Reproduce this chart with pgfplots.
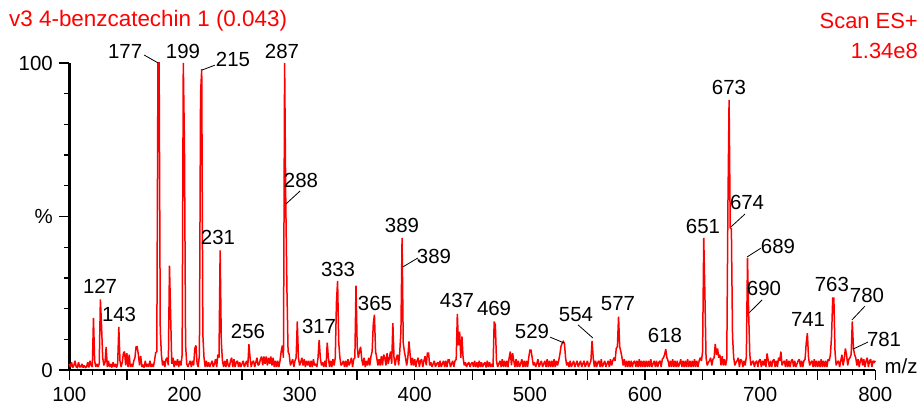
\documentclass[border=0pt]{standalone}
\usepackage{pgfplots}
\pgfplotsset{compat=1.18}
\usepackage{fontspec}
\setmainfont{Liberation Sans}
\begin{document}
\begin{tikzpicture}[x=1bp,y=1bp]
\path[use as bounding box] (0,0) rectangle (924,408);
\begin{axis}[
  at={(69.3bp,38bp)}, anchor=south west, scale only axis,
  width=806bp, height=307bp,
  xmin=100, xmax=800, ymin=0, ymax=100,
  axis x line*=bottom, axis y line*=left,
  axis line style={line width=2.8bp, -},
  xtick={100,200,...,800},
  extra x ticks={150,250,...,750}, extra x tick labels={},
  extra x tick style={major tick length=10bp},
  minor x tick num=9,
  ytick={0,50,100}, yticklabels={0,\%,100}, minor y tick num=4,
  tick align=outside,
  major tick length=10bp, minor tick length=5bp,
  tick style={black, line width=1.4bp},
  ticklabel style={font=\fontsize{20.5}{22}\selectfont},
  xticklabel style={yshift=-4bp},
  yticklabel style={xshift=-3bp},
  /pgf/number format/assume math mode=true,
  clip=false,
]
\addplot[red, line width=1.5bp, line join=miter, miter limit=2] table[row sep=\\, header=false, x expr=\coordindex+100, y index=0] {
2\\1\\2.5\\0.8\\1.5\\3\\1\\0.8\\2.5\\1\\
1\\2\\0.8\\1.5\\0.8\\1\\2.5\\0.8\\3\\1.5\\
1\\17\\3\\1\\2\\1\\2\\23\\14.5\\4\\
1.5\\2.5\\7.5\\1\\3\\1\\2\\0.8\\2.5\\1\\
2\\0.8\\2\\14\\3\\1\\2.5\\5.5\\6\\1.5\\
5.5\\1\\5\\1\\2\\1\\3\\4\\7.5\\7.5\\
5\\1.5\\4.6\\1\\1.5\\0.8\\3\\1\\2\\1\\
3\\1\\2\\1\\3\\5.6\\6\\100\\100\\13\\
5\\1.5\\3\\1\\3.5\\4\\1.5\\34\\18\\2\\
4\\1\\3\\1.5\\3.5\\1\\3\\1.5\\5\\100\\
73.5\\8\\2\\1\\2\\3\\1\\3\\1.5\\7\\
8\\2\\1\\5\\90\\98\\11.4\\4\\1\\3\\
1\\2.5\\1\\2\\3\\1\\2\\3.5\\1\\5\\
4\\39\\9.3\\3\\1\\3\\1\\3.5\\1.5\\1\\
3\\4\\1\\3.5\\1\\2.5\\3\\1\\2.5\\1\\
2\\3\\1\\2\\3\\1\\8.4\\4\\1\\2.5\\
3\\1\\2.5\\4\\1.5\\2\\3.5\\4.4\\1.5\\4.4\\
2\\4.4\\1.5\\4\\2\\4.4\\1.5\\4\\1\\3\\
1\\3\\1\\3\\6\\8\\4\\100\\55\\26.4\\
6\\5\\1.5\\2.5\\3.5\\1\\3\\4\\15.8\\4\\
1.5\\2.5\\4\\1.5\\3.5\\1\\3\\1.5\\3\\1\\
3\\1\\3.5\\1.5\\2\\1\\4\\9.8\\4\\1.5\\
2.5\\1\\3\\1\\8.9\\4\\1\\3\\1\\3.5\\
1.5\\4\\22\\29\\9\\4\\1.5\\2\\3\\1\\
3\\1\\3.5\\1.5\\2.5\\4\\1\\3.5\\4\\27.5\\
8\\4\\6\\7.6\\3.5\\1.5\\4\\1\\3\\1.5\\
4\\1.5\\4.5\\6\\15\\18\\6\\4\\1.5\\3.5\\
1.5\\4.5\\1.5\\5\\4\\1.5\\5.5\\2\\4\\6\\
2\\15.3\\4\\1.5\\4\\5\\1.5\\6\\12.5\\43\\
9\\6\\4\\1.5\\4\\9.3\\5\\1.5\\4\\1.5\\
3.5\\1\\3\\4\\1\\3\\3.5\\1\\3\\4.5\\
1.5\\5.5\\5.5\\1.5\\2.5\\1\\2\\3\\1\\2\\
2.5\\1\\3\\1\\2\\3\\1\\3\\1\\3.3\\
3.3\\1\\2\\3\\1\\3\\3.5\\18.3\\8\\12.5\\
4\\10.9\\4\\1.5\\2.5\\1\\2\\2.5\\1\\2\\
2.5\\1\\3\\1\\2.5\\0.8\\3\\1\\2.5\\1\\
2\\2.5\\0.8\\3\\1\\2.5\\1\\2\\1\\15.8\\
14.7\\3\\1\\2\\3\\1\\3.5\\1\\3\\1\\
3\\1\\4\\6\\1.5\\5.5\\3\\1\\3.5\\1\\
3\\1\\2\\3.5\\1\\3\\1\\3\\1\\4\\
6.5\\6.5\\4\\1.5\\2.5\\1\\2\\3.5\\1\\2\\
3\\1\\2\\3\\1\\3.5\\1\\3\\1\\3\\
1\\3.5\\1\\3\\1.5\\3\\5\\7.6\\8.7\\9.3\\
8.7\\4\\1.5\\2.5\\1\\3\\1\\2\\3\\1\\
2\\3\\1\\2\\3\\1\\2\\3\\1\\2\\
3\\1\\2\\3\\9.5\\4\\1\\3\\1\\2.5\\
3\\1\\3.5\\1\\2\\3\\1\\2\\3\\1\\
3.5\\1.5\\3\\4\\3\\7\\7.6\\17.4\\7.6\\6\\
4\\1.5\\3.5\\1\\3\\1\\3\\1\\3\\1\\
2.5\\3\\1\\3\\1\\3.5\\1\\3\\1\\3\\
1\\3\\1\\3\\1\\3.5\\1\\2\\3\\1\\
3\\1\\2.5\\3\\1\\3.5\\4\\5\\6.8\\4\\
3\\1\\3\\1\\3.5\\1\\3\\1\\3\\1\\
2\\3.5\\1\\3\\1\\3\\1\\3.5\\1\\3\\
1\\3\\1\\3.5\\1\\3\\1\\3\\4\\3\\
6\\43\\24.5\\4\\1.5\\2.5\\3\\4\\1.5\\3.5\\
4\\8.5\\5\\7\\4\\5\\1.5\\4.5\\1.5\\3.5\\
1.5\\3.5\\53.4\\88\\46.3\\46\\11\\4\\1.5\\2.5\\
3\\4\\1\\3.5\\3\\1\\3\\1.5\\4.4\\36.5\\
18.5\\5\\1.5\\2.5\\3\\1\\2.5\\3\\1\\3\\
3.5\\1\\3\\1.5\\3.5\\1\\5.4\\3\\1\\3\\
1\\3\\3.5\\1\\3\\1\\4\\3\\6\\1.5\\
2.5\\3\\1\\3.5\\1\\3\\1\\3\\3.5\\1\\
3\\1\\2\\3\\3.5\\1\\3\\1\\3\\3.5\\
8.8\\12\\4\\1.5\\2.5\\3\\1\\3.5\\1\\3\\
1\\3\\1\\3.5\\1\\3\\1\\3\\1\\3.5\\
3\\5\\11\\23.4\\23.4\\6\\1.5\\2.5\\3\\1\\
3\\5\\1.5\\3.5\\7\\5\\1.5\\3.5\\4\\5\\
15.8\\7.1\\5\\4\\1.5\\3.5\\1\\3\\4\\1.5\\
3.5\\1\\3\\4\\1\\3\\3.5\\1\\3\\2.5\\
3\\
};
% peak labels
\begin{scope}[every node/.style={font=\fontsize{20.5}{22}\selectfont, inner sep=0pt}]
\node at (axis cs:126.7,27.4) {127};
\node at (axis cs:143.2,18.2) {143};
\node at (axis cs:148.5,103.9) {177};
\node at (axis cs:198.7,103.9) {199};
\node at (axis cs:242.2,101.3) {215};
\node at (axis cs:284.7,103.9) {287};
\node at (axis cs:301.2,61.6) {288};
\node at (axis cs:229.1,43.3) {231};
\node at (axis cs:255.2,12.4) {256};
\node at (axis cs:316.9,14.3) {317};
\node at (axis cs:333.4,32.6) {333};
\node at (axis cs:365.5,21.8) {365};
\node at (axis cs:388.9,47.2) {389};
\node at (axis cs:416.7,37.1) {389};
\node at (axis cs:436.7,22.5) {437};
\node at (axis cs:468.9,20.2) {469};
\node at (axis cs:501.8,12.4) {529};
\node at (axis cs:540,17.9) {554};
\node at (axis cs:576.5,21.5) {577};
\node at (axis cs:617.3,11.1) {618};
\node at (axis cs:650.3,46.9) {651};
\node at (axis cs:672.9,91.9) {673};
\node at (axis cs:688.6,54.7) {674};
\node at (axis cs:715.5,40.4) {689};
\node at (axis cs:703.3,26.7) {690};
\node at (axis cs:741.6,16.3) {741};
\node at (axis cs:762.3,28.0) {763};
\node at (axis cs:792.8,24.4) {780};
\node at (axis cs:807.6,10.1) {781};
\end{scope}
\begin{scope}[black, line width=0.8bp]
\draw (axis cs:165.0,102.6) -- (axis cs:177.2,100);
\draw (axis cs:226.5,99.3) -- (axis cs:215.2,97.7);
\draw (axis cs:300.4,58.3) -- (axis cs:288.2,54.1);
\draw (axis cs:402.8,36.5) -- (axis cs:389.8,33.6);
\draw (axis cs:517.6,10.7) -- (axis cs:529.7,8.8);
\draw (axis cs:541.8,14.7) -- (axis cs:554.8,10.4);
\draw (axis cs:686.8,50.8) -- (axis cs:674.6,46.6);
\draw (axis cs:700.7,39.7) -- (axis cs:688.5,36.8);
\draw (axis cs:701.6,22.8) -- (axis cs:690.3,18.6);
\draw (axis cs:791,20.8) -- (axis cs:779.7,16.3);
\draw (axis cs:793.6,9.1) -- (axis cs:780.6,6.8);
\end{scope}
\end{axis}
\node[anchor=west, red, inner sep=0pt, font=\fontsize{22.5}{24}\selectfont] at (9,387) {v3 4-benzcatechin 1 (0.043)};
\node[anchor=east, red, inner sep=0pt, font=\fontsize{22}{24}\selectfont] at (918,387) {Scan ES+};
\node[anchor=east, red, inner sep=0pt, font=\fontsize{22}{24}\selectfont] at (918,357) {1.34e8};
\node[inner sep=0pt, font=\fontsize{20.5}{22}\selectfont] at (901,42) {m/z};
\end{tikzpicture}
\end{document}
